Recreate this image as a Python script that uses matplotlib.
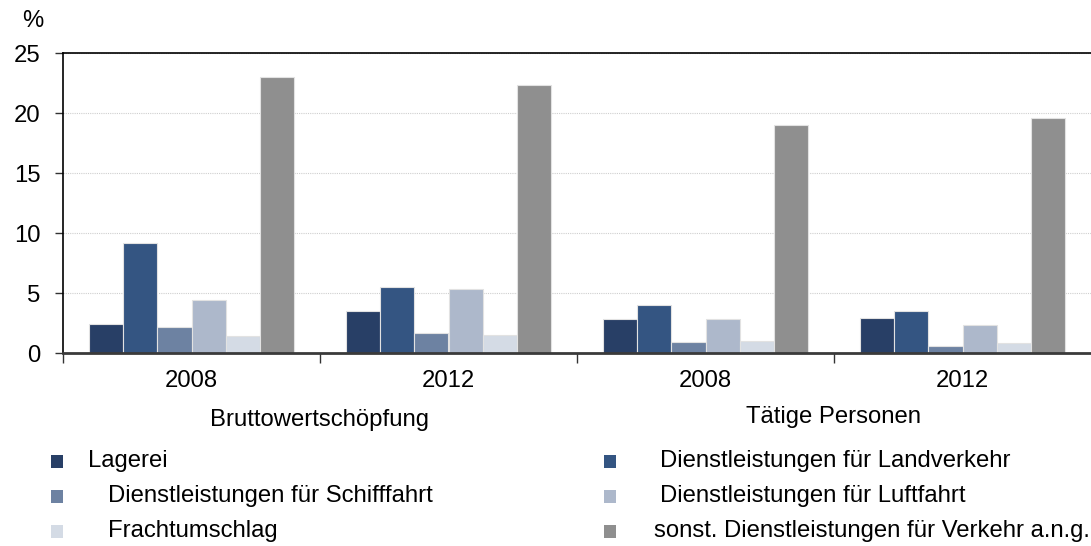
import matplotlib
matplotlib.use("Agg")
import matplotlib.pyplot as plt
import matplotlib.transforms as mtransforms
from matplotlib.patches import Rectangle
import numpy as np

plt.rcParams["font.family"] = ["Liberation Sans", "DejaVu Sans"]

# data
years = ["2008", "2012", "2008", "2012"]
groups = ["Bruttowertschöpfung", "Tätige Personen"]
series = [
    "Lagerei",
    "Dienstleistungen für Landverkehr",
    "Dienstleistungen für Schifffahrt",
    "Dienstleistungen für Luftfahrt",
    "Frachtumschlag",
    "sonst. Dienstleistungen für Verkehr a.n.g.",
]
lagerei = [2.4, 3.5, 2.8, 2.9]
landverkehr = [9.2, 5.5, 4.0, 3.5]
schifffahrt = [2.2, 1.7, 0.9, 0.6]
luftfahrt = [4.4, 5.3, 2.8, 2.3]
frachtumschlag = [1.4, 1.5, 1.0, 0.8]
sonstige = [23.0, 22.3, 19.0, 19.6]
values = [lagerei, landverkehr, schifffahrt, luftfahrt, frachtumschlag, sonstige]
colors = ["#283f66", "#345582", "#6d82a2", "#adb8cb", "#d4dbe5", "#8f8f8f"]

fs = 17.2
fig = plt.figure(figsize=(10.91, 5.46), dpi=100)
ax = fig.add_axes([63 / 1091, 1 - 353 / 546, 1 - 63 / 1091, 300 / 546])

x = np.arange(len(years))
w = 0.133
for i, (vals, col) in enumerate(zip(values, colors)):
    ax.bar(x + (i - 2.5) * w, vals, width=w, color=col, edgecolor="#e2e2e2",
           linewidth=0.8, zorder=3)

ax.set_xlim(-0.5, 3.5)
ax.set_ylim(0, 25)
ax.set_yticks([0, 5, 10, 15, 20, 25])
ax.tick_params(axis="y", labelsize=fs, length=6, width=1, pad=10, color="#333333")
ax.yaxis.grid(True, linestyle=(0, (1, 1)), color="#cfcfcf", linewidth=0.8, zorder=0)

ax.set_xticks(x)
ax.set_xticklabels(years)
ax.tick_params(axis="x", which="major", length=0, labelsize=fs, pad=12)
ax.set_xticks([-0.5, 0.5, 1.5, 2.5], minor=True)
ax.tick_params(axis="x", which="minor", length=7, width=1, color="#333333")

ax.spines["right"].set_visible(False)
ax.spines["top"].set_color("black")
ax.spines["top"].set_linewidth(1.2)
ax.spines["left"].set_color("black")
ax.spines["left"].set_linewidth(1.2)
ax.spines["bottom"].set_color("#3a3a3a")
ax.spines["bottom"].set_linewidth(2)
ax.spines["bottom"].set_zorder(4)

fig.text(22 / 1091, 1 - 21 / 546, "%", fontsize=fs, ha="left", va="center")

# group labels below the years
trans = mtransforms.blended_transform_factory(ax.transData, fig.transFigure)
ax.text(0.5, 1 - 420 / 546, groups[0], transform=trans, ha="center", va="center", fontsize=fs)
ax.text(2.5, 1 - 417 / 546, groups[1], transform=trans, ha="center", va="center", fontsize=fs)

# legend, two columns
rows = [461, 496, 531]
marker_x = [51, 604]
text_x = [[88, 660], [108, 660], [108, 654]]
for k, (name, col) in enumerate(zip(series, colors)):
    r, c = k // 2, k % 2
    yc = 1 - rows[r] / 546
    fig.patches.append(Rectangle((marker_x[c] / 1091, yc - 6.5 / 546), 12 / 1091, 13 / 546,
                                 transform=fig.transFigure, facecolor=col, edgecolor="none"))
    fig.text(text_x[r][c] / 1091, yc, name, fontsize=fs, ha="left", va="center")

fig.savefig("out.png", dpi=100)
